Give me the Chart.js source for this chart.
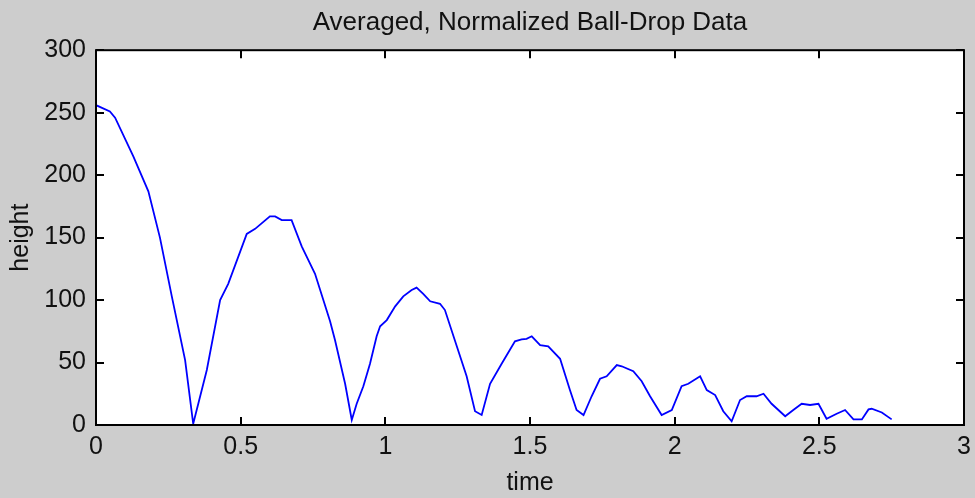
<!DOCTYPE html>
<html>
<head>
<meta charset="utf-8">
<script src="https://cdn.jsdelivr.net/npm/chart.js@4/dist/chart.umd.min.js"></script>
<style>
  html, body { margin: 0; padding: 0; background: #cdcdcd; }
  #wrap { width: 975px; height: 498px; }
</style>
</head>
<body>
<div id="wrap"><canvas id="c" width="975" height="498"></canvas></div>
<script>
const titleText = "Averaged, Normalized Ball-Drop Data";
const xLabel = "time";
const yLabel = "height";
const xTicks = [0, 0.5, 1, 1.5, 2, 2.5, 3];
const yTicks = [0, 50, 100, 150, 200, 250, 300];
const timeValues = [0.000,0.048,0.066,0.129,0.181,0.221,0.262,0.308,0.336,0.383,0.429,0.457,0.521,0.550,0.601,0.619,0.642,0.676,0.711,0.757,0.809,0.826,0.861,0.884,0.901,0.924,0.947,0.970,0.982,1.005,1.034,1.062,1.091,1.108,1.131,1.155,1.189,1.206,1.247,1.281,1.310,1.333,1.362,1.402,1.448,1.471,1.488,1.506,1.535,1.563,1.604,1.638,1.661,1.685,1.713,1.742,1.765,1.800,1.817,1.857,1.886,1.915,1.955,1.990,2.024,2.047,2.088,2.111,2.140,2.168,2.197,2.226,2.249,2.283,2.307,2.335,2.382,2.410,2.439,2.468,2.497,2.525,2.560,2.589,2.618,2.647,2.670,2.681,2.716,2.750];
const heightValues = [256,251,246,215,187,150,103,52,1,44,100,113,153,157,167,167,164,164,143,121,83,68,33,4,17,31,49,71,79,84,95,103,108,110,105,99,97,92,63,39,11,8,33,49,67,68.5,69,71,64,63,53,28,12,8,23,37,39,48,47,43,35,23,8,12,31,33,39,28,24,11,3,20,23,23,25,17,7,12,17,16,17,5,9,12,4.5,4.5,12.5,13,10,4.5];

const BG = '#cdcdcd';
const FONT = "'Liberation Sans', Arial, sans-serif";

const boxPlugin = {
  id: 'matlabBox',
  beforeDraw(chart) {
    const ctx = chart.ctx, a = chart.chartArea;
    ctx.save();
    ctx.fillStyle = BG;
    ctx.fillRect(0, 0, chart.width, chart.height);
    ctx.fillStyle = '#ffffff';
    ctx.fillRect(a.left, a.top, a.right - a.left, a.bottom - a.top);
    ctx.restore();
  },
  afterDraw(chart) {
    const ctx = chart.ctx, a = chart.chartArea;
    const xs = chart.scales.x, ys = chart.scales.y;
    const L = 8;
    ctx.save();
    ctx.strokeStyle = '#000000';
    ctx.lineWidth = 2;
    ctx.strokeRect(a.left, a.top, a.right - a.left, a.bottom - a.top);
    ctx.beginPath();
    xs.ticks.forEach(t => {
      const px = Math.round(xs.getPixelForValue(t.value));
      ctx.moveTo(px, a.bottom); ctx.lineTo(px, a.bottom - L);
      ctx.moveTo(px, a.top); ctx.lineTo(px, a.top + L);
    });
    ys.ticks.forEach(t => {
      const py = Math.round(ys.getPixelForValue(t.value));
      ctx.moveTo(a.left, py); ctx.lineTo(a.left + L, py);
      ctx.moveTo(a.right, py); ctx.lineTo(a.right - L, py);
    });
    ctx.stroke();
    ctx.restore();
  }
};

const points = timeValues.map((t, i) => ({ x: t, y: heightValues[i] }));

new Chart(document.getElementById('c'), {
  type: 'scatter',
  data: {
    datasets: [{
      data: points,
      showLine: true,
      borderColor: '#0000ff',
      backgroundColor: '#0000ff',
      borderWidth: 1.8,
      pointRadius: 0,
      tension: 0
    }]
  },
  options: {
    responsive: false,
    animation: false,
    layout: { padding: { left: 0, right: 11, top: 0, bottom: 0 } },
    plugins: {
      legend: { display: false },
      tooltip: { enabled: false },
      title: {
        display: true,
        text: titleText,
        fullSize: false,
        color: '#111111',
        font: { family: FONT, size: 26, weight: 'normal', lineHeight: 1.2 },
        padding: { top: 7, bottom: 12 }
      }
    },
    scales: {
      x: {
        type: 'linear',
        min: 0, max: 3,
        afterBuildTicks(scale) { scale.ticks = xTicks.map(v => ({ value: v })); },
        afterFit(scale) { scale.height = 73; scale.paddingRight = 0; },
        grid: { display: false, drawTicks: false },
        border: { display: false },
        ticks: { color: '#111111', font: { family: FONT, size: 25 }, padding: 7, maxRotation: 0,
                 callback: (v) => String(v) },
        title: { display: true, text: xLabel, color: '#111111', font: { family: FONT, size: 25, lineHeight: 1.2 }, padding: { top: 0, bottom: 0 } }
      },
      y: {
        type: 'linear',
        min: 0, max: 300,
        afterBuildTicks(scale) { scale.ticks = yTicks.map(v => ({ value: v })); },
        afterFit(scale) { scale.width = 96; },
        grid: { display: false, drawTicks: false },
        border: { display: false },
        ticks: { color: '#111111', font: { family: FONT, size: 25 }, padding: 10,
                 callback: (v) => String(v) },
        title: { display: true, text: yLabel, color: '#111111', font: { family: FONT, size: 25, lineHeight: 1.2 }, padding: { top: 6, bottom: 0 } }
      }
    }
  },
  plugins: [boxPlugin]
});
</script>
</body>
</html>
